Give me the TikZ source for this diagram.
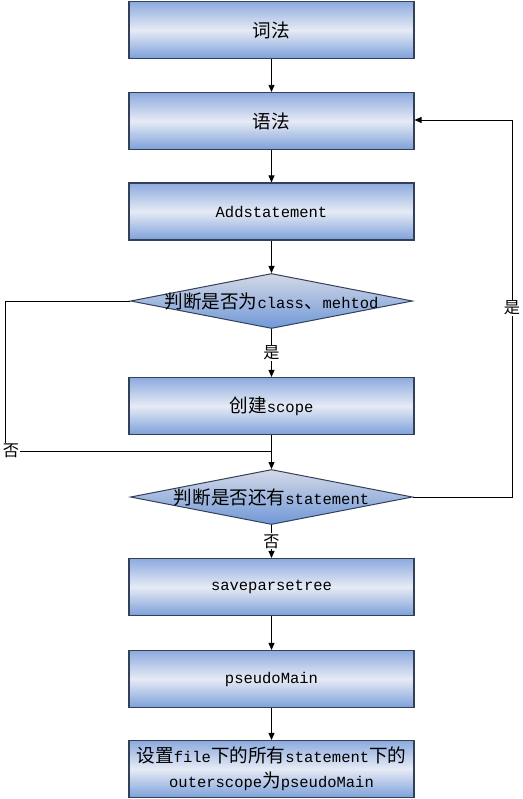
\documentclass[tikz,border=0pt]{standalone}
\usepackage{fontspec}
\setmainfont{Liberation Mono}
\newfontfamily\cjk[Scale=1.2]{Noto Sans CJK SC}
\newcommand\zh[1]{{\cjk #1}}
\usetikzlibrary{shapes.geometric,arrows.meta}
\definecolor{boxtop}{RGB}{141,170,222}
\definecolor{boxmid}{RGB}{230,235,245}
\definecolor{boxbot}{RGB}{125,160,218}
\definecolor{diatop}{RGB}{212,217,230}
\definecolor{diabot}{RGB}{112,152,216}
\definecolor{boxborder}{RGB}{50,64,88}
\begin{document}
\begin{tikzpicture}[x=1pt,y=-1pt,
  box/.style={draw=boxborder, line width=1.1pt, minimum width=285pt, minimum height=57pt,
    inner sep=0pt, top color=boxtop, bottom color=boxbot, middle color=boxmid,
    font=\fontsize{15.5}{25}\selectfont, align=center},
  dia/.style={shape=diamond, draw=boxborder, line width=1pt, minimum width=282pt, minimum height=55pt,
    aspect=5, inner sep=0pt, top color=diatop, bottom color=diabot},
  dtext/.style={font=\fontsize{15.5}{20}\selectfont, inner sep=0pt},
  arr/.style={draw=black, line width=0.8pt, -{Triangle[length=7pt,width=6pt]}},
  conn/.style={draw=black, line width=0.8pt},
  lbl/.style={fill=white, inner sep=1pt, font=\fontsize{13.5}{14}\selectfont}
]
\useasboundingbox[fill=white] (0,0) rectangle (522,799);

\node[box] (b1) at (271.5,30) {\zh{词法}};
\node[box] (b2) at (271.5,121) {\zh{语法}};
\node[box] (b3) at (271.5,211.5) {Addstatement};
\node[dia] (d1) at (271.5,301) {};
\node[dtext] at (d1) {\zh{判断是否为}class\zh{、}mehtod};
\node[box] (b4) at (271.5,406) {\zh{创建}scope};
\node[dia] (d2) at (271.5,497) {};
\node[dtext] at (d2) {\zh{判断是否还有}statement};
\node[box] (b5) at (271.5,587) {saveparsetree};
\node[box] (b6) at (271.5,679) {pseudoMain};
\node[box] (b7) at (271.5,769) {\zh{设置}file\zh{下的所有}statement\zh{下的}\\outerscope\zh{为}pseudoMain};

\coordinate (lc) at (5,451);
\coordinate (j) at (271.5,451);
\coordinate (rc) at (512,120);

\draw[arr] (b1) -- (b2);
\draw[arr] (b2) -- (b3);
\draw[arr] (b3) -- (d1);
\draw[arr] (d1) -- node[lbl, pos=0.5] {\zh{是}} (b4);
\draw[arr] (b4) -- (d2);
\draw[arr] (d2) -- node[lbl, pos=0.5] {\zh{否}} (b5);
\draw[arr] (b5) -- (b6);
\draw[arr] (b6) -- (b7);

\draw[conn] (d1.west) -| (lc) -- (j);
\node[lbl] at (11,451) {\zh{否}};

\draw[arr] (d2.east) -| (rc) -- (rc -| b2.east);
\node[lbl] at (512,308) {\zh{是}};
\end{tikzpicture}
\end{document}
